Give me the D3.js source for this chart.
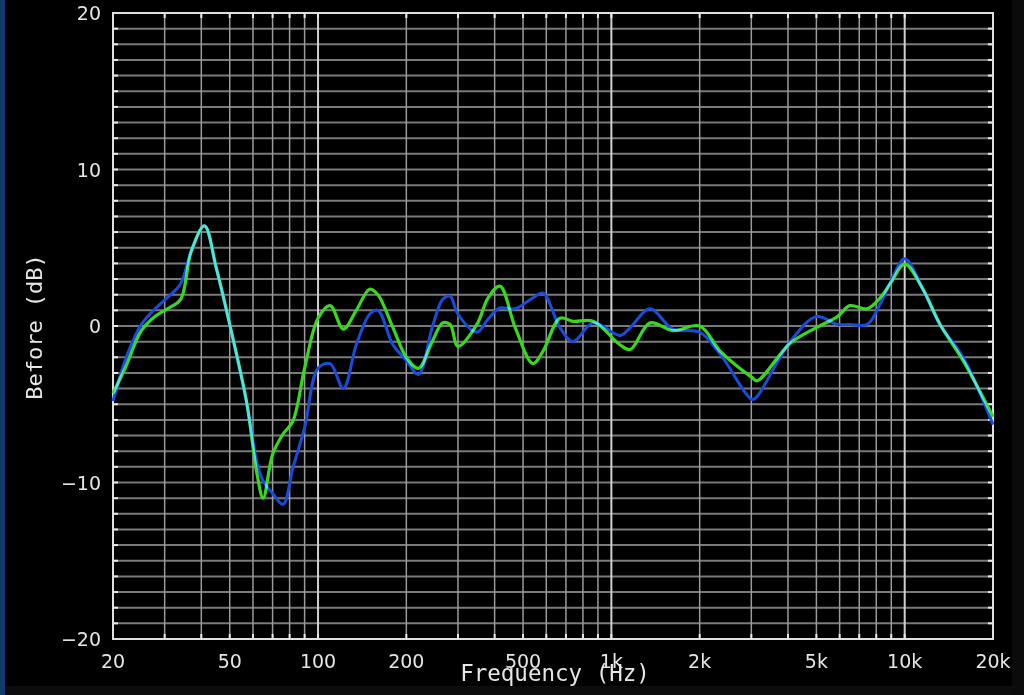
<!DOCTYPE html>
<html><head><meta charset="utf-8">
<script src="https://cdn.jsdelivr.net/npm/d3@7"></script>
<style>
html,body{margin:0;padding:0;background:#000;}
svg{display:block;}
</style></head>
<body>
<script>
// ---- data ----
const freqs = [20,22,25,28,31,34,37,41,45,50,57,62,65,70,76,82,90,100,110,122,135,150,160,180,200,220,245,266,282,300,348,380,417,470,540,585,668,740,867,1070,1160,1355,1620,2000,2350,3020,3140,4070,5000,5900,6500,7450,8250,9000,10000,11500,13200,15800,20000];
const blueVals = [-4.8,-2.2,0.1,1.15,1.9,2.7,4.8,6.4,3.7,0.1,-4.8,-8.8,-9.9,-10.7,-11.4,-9.1,-6.5,-2.7,-2.4,-4.0,-1.2,0.75,1.0,-1.2,-2.2,-3.1,-0.1,1.7,1.9,0.75,-0.4,0.45,1.15,1.1,1.8,2.1,-0.1,-1.0,0.2,-0.6,-0.1,1.1,-0.2,-0.4,-1.8,-4.7,-4.5,-1.0,0.6,0.1,0.1,0.1,1.4,2.9,4.3,2.4,0.1,-2.0,-6.3];
const greenVals = [-4.3,-2.7,-0.3,0.65,1.15,1.7,4.8,6.4,3.7,0.1,-4.8,-9.5,-11.0,-8.2,-6.9,-6.1,-2.7,0.5,1.3,-0.2,1.0,2.35,2.0,-0.1,-2.0,-2.7,-1.0,0.2,0.1,-1.3,0.1,1.8,2.55,-0.1,-2.4,-1.6,0.5,0.3,0.3,-1.2,-1.5,0.2,-0.3,0.0,-1.6,-3.3,-3.5,-1.1,-0.1,0.6,1.3,1.1,1.8,2.8,3.95,2.4,0.1,-2.2,-5.8];
const xTickValues = [20,50,100,200,500,1000,2000,5000,10000,20000];
const xTickLabels = ["20","50","100","200","500","1k","2k","5k","10k","20k"];
const yTickValues = [-20,-10,0,10,20];
const xGridValues = [20,30,40,50,60,70,80,90,100,200,300,400,500,600,700,800,900,1000,2000,3000,4000,5000,6000,7000,8000,9000,10000,20000];
const majorGrid = [100,1000,10000];
const xTitle = "Frequency (Hz)";
const yTitle = "Before (dB)";

// ---- layout ----
const W = 1024, H = 695;
const L = 113, R = 993, T = 13, B = 639;

const svg = d3.select("body").append("svg").attr("width", W).attr("height", H);
svg.append("rect").attr("width", W).attr("height", H).attr("fill", "#000");
// frame strips
svg.append("rect").attr("x",0).attr("y",0).attr("width",5).attr("height",H).attr("fill","#123a6c");
svg.append("rect").attr("x",1012).attr("y",0).attr("width",12).attr("height",H).attr("fill","#0b0b0b");
svg.append("rect").attr("x",5).attr("y",686).attr("width",1007).attr("height",9).attr("fill","#0c0c0c");

const x = d3.scaleLog().domain([20,20000]).range([L,R]);
const y = d3.scaleLinear().domain([-20,20]).range([B,T]);

// horizontal grid every 1 dB
const g = svg.append("g");
g.selectAll("line.h").data(d3.range(-19,20)).join("line")
  .attr("x1",L).attr("x2",R).attr("y1",d=>y(d)).attr("y2",d=>y(d))
  .attr("stroke","#7a7a7a").attr("stroke-width",2);
// vertical grid
g.selectAll("line.v").data(xGridValues.slice(1,-1)).join("line")
  .attr("x1",d=>x(d)).attr("x2",d=>x(d)).attr("y1",T).attr("y2",B)
  .attr("stroke",d=>majorGrid.includes(d)?"#d0d0d0":"#9a9a9a")
  .attr("stroke-width",d=>majorGrid.includes(d)?2:1.5);

// ticks: left & right every 1 dB (inward), bottom/top at grid
g.selectAll("line.lt").data(d3.range(-19,20)).join("line")
  .attr("x1",L).attr("x2",L+5).attr("y1",d=>y(d)).attr("y2",d=>y(d))
  .attr("stroke","#e8e8e8").attr("stroke-width",2);
g.selectAll("line.rt").data(d3.range(-19,20)).join("line")
  .attr("x1",R-5).attr("x2",R).attr("y1",d=>y(d)).attr("y2",d=>y(d))
  .attr("stroke","#e8e8e8").attr("stroke-width",2);
g.selectAll("line.bt").data(xGridValues.slice(1,-1)).join("line")
  .attr("x1",d=>x(d)).attr("x2",d=>x(d)).attr("y1",B).attr("y2",B-5)
  .attr("stroke","#e8e8e8").attr("stroke-width",2);
g.selectAll("line.tt").data(xGridValues.slice(1,-1)).join("line")
  .attr("x1",d=>x(d)).attr("x2",d=>x(d)).attr("y1",T).attr("y2",T+5)
  .attr("stroke","#e8e8e8").attr("stroke-width",2);

// frame
svg.append("rect").attr("x",L).attr("y",T).attr("width",R-L).attr("height",B-T)
  .attr("fill","none").attr("stroke","#e0e0e0").attr("stroke-width",2);

// curves
const line = d3.line().x(d=>x(d[0])).y(d=>y(d[1])).curve(d3.curveCatmullRom.alpha(0.5));
const gData = freqs.map((f,i)=>[f,greenVals[i]]);
const bData = freqs.map((f,i)=>[f,blueVals[i]]);
const curves = svg.append("g").style("isolation","isolate");
curves.append("path").datum(gData).attr("d",line).attr("fill","none")
  .attr("stroke","#38d81c").attr("stroke-width",3.2).style("mix-blend-mode","screen");
curves.append("path").datum(bData).attr("d",line).attr("fill","none")
  .attr("stroke","#1a4cdc").attr("stroke-width",3).style("mix-blend-mode","screen");

// tick labels
const tf = "'DejaVu Sans', sans-serif";
svg.append("g").selectAll("text").data(xTickValues).join("text")
  .attr("x",d=>x(d)).attr("y",668).attr("text-anchor","middle")
  .attr("font-family",tf).attr("font-size",19).attr("fill","#e6e6e6")
  .text((d,i)=>xTickLabels[i]);
svg.append("g").selectAll("text").data(yTickValues).join("text")
  .attr("x",101).attr("y",d=>y(d)+7).attr("text-anchor","end")
  .attr("font-family",tf).attr("font-size",19).attr("fill","#e6e6e6")
  .text(d=>d3.format("d")(d).replace("-","\u2212"));

// titles
const mf = "'DejaVu Sans Mono', monospace";
svg.append("text").attr("x",555).attr("y",681).attr("text-anchor","middle")
  .attr("font-family",mf).attr("font-size",22.5).attr("fill","#e6e6e6").text(xTitle);
svg.append("text").attr("transform","translate(42,327) rotate(-90)").attr("text-anchor","middle")
  .attr("font-family",mf).attr("font-size",22).attr("fill","#e6e6e6").text(yTitle);
</script>
</body></html>
